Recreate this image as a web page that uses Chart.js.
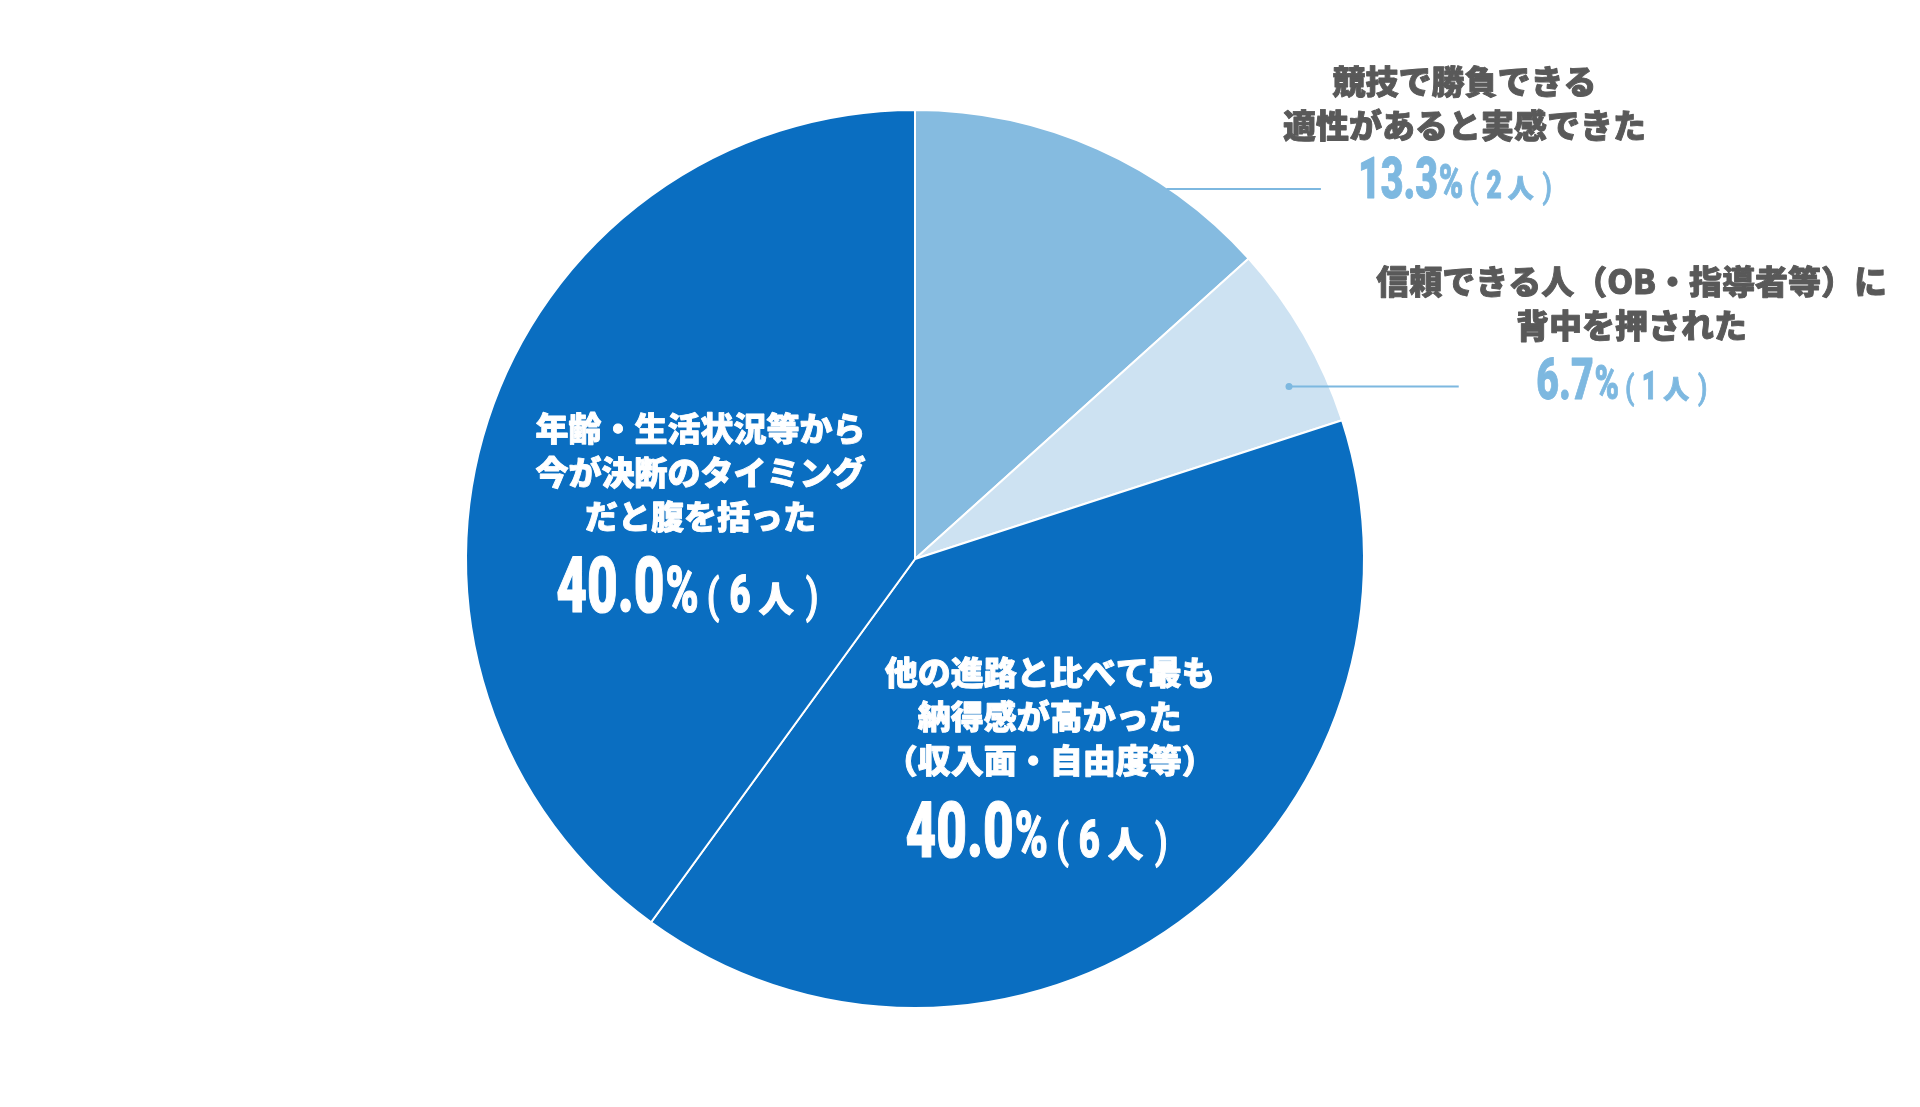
<!DOCTYPE html>
<html lang="ja">
<head>
    <meta charset="UTF-8">
    <title>進路決定の理由</title>
    <script src="https://cdn.jsdelivr.net/npm/chart.js"></script>
    <style>
        html, body { margin: 0; padding: 0; background: #fff; }
        #wrap { width: 1920px; height: 1107px; }
    </style>
</head>
<body>
    <div id="wrap"><canvas id="myChart" width="1920" height="1107"></canvas></div>

    <script>
        // 各項目（時計回り、上から）
        const categories = [
            ['競技で勝負できる', '適性があると実感できた'],
            ['信頼できる人（OB・指導者等）に', '背中を押された'],
            ['他の進路と比べて最も', '納得感が高かった', '（収入面・自由度等）'],
            ['年齢・生活状況等から', '今が決断のタイミング', 'だと腹を括った']
        ];
        const counts = [2, 1, 6, 6];
        const percentLabels = ['13.3', '6.7', '40.0', '40.0'];

        const sliceColors = ['#85bbe0', '#cde2f2', '#0a6ec1', '#0a6ec1'];

        // ラベル配置（円の中心からの位置、半径単位）
        const labelLayout = [
            { dx: 1.224, dy: -1.064, outside: true, line: [0.56, 0.904, -0.824], dot: false },
            { dx: 1.596, dy: -0.618, outside: true, line: [0.833, 1.211, -0.384], dot: true },
            { dx: 0.300, dy: 0.253, outside: false },
            { dx: -0.478, dy: -0.291, outside: false }
        ];

        const jpFont = '"Noto Sans CJK JP", "Noto Sans", sans-serif';
        const numFont = 'Roboto, "Liberation Sans", sans-serif';

        function drawPercent(ctx, cx, baseline, pct, count, s, color) {
            const pieces = [
                { t: pct,   font: `900 ${78 * s}px ${numFont}`, sx: 0.68, gap: 1 * s },
                { t: '%',   font: `900 ${64 * s}px ${numFont}`, sx: 0.7, gap: 8 * s },
                { t: '(',   font: `500 ${46 * s}px ${numFont}`, sx: 0.8,  gap: 10 * s },
                { t: String(count), font: `900 ${52 * s}px ${numFont}`, sx: 0.7, gap: 8 * s },
                { t: '人',  font: `900 ${35 * s}px ${jpFont}`, sx: 1, gap: 12 * s },
                { t: ')',   font: `500 ${46 * s}px ${numFont}`, sx: 0.8,  gap: 26 * s }
            ];
            let total = 0;
            pieces.forEach(p => {
                ctx.font = p.font;
                p.w = ctx.measureText(p.t).width * p.sx;
                total += p.w + p.gap;
            });
            let x = cx - total / 2;
            ctx.fillStyle = color;
            ctx.strokeStyle = color;
            ctx.lineWidth = 1.2 * s;
            ctx.lineJoin = 'round';
            ctx.textAlign = 'left';
            ctx.textBaseline = 'alphabetic';
            pieces.forEach(p => {
                ctx.save();
                ctx.font = p.font;
                ctx.translate(x, baseline);
                ctx.scale(p.sx, 1);
                ctx.fillText(p.t, 0, 0);
                ctx.strokeText(p.t, 0, 0);
                ctx.restore();
                x += p.w + p.gap;
            });
        }

        const labelPlugin = {
            id: 'sliceLabels',
            afterDraw(chart) {
                const ctx = chart.ctx;
                const arc = chart.getDatasetMeta(0).data[0];
                const cx = arc.x, cy = arc.y, r = arc.outerRadius;

                categories.forEach((lines, i) => {
                    const lay = labelLayout[i];
                    const x = cx + lay.dx * r;
                    const y = cy + lay.dy * r;

                    if (lay.line) {
                        const ly = cy + lay.line[2] * r;
                        ctx.save();
                        ctx.strokeStyle = '#7db8e0';
                        ctx.fillStyle = '#7db8e0';
                        ctx.lineWidth = 2;
                        ctx.beginPath();
                        ctx.moveTo(cx + lay.line[0] * r, ly);
                        ctx.lineTo(cx + lay.line[1] * r, ly);
                        ctx.stroke();
                        if (lay.dot) {
                            ctx.beginPath();
                            ctx.arc(cx + lay.line[0] * r, ly, 3.5, 0, Math.PI * 2);
                            ctx.fill();
                        }
                        ctx.restore();
                    }

                    ctx.save();
                    ctx.font = `900 33px ${jpFont}`;
                    ctx.textAlign = 'center';
                    ctx.textBaseline = 'middle';
                    const col = lay.outside ? '#595959' : '#ffffff';
                    ctx.fillStyle = col;
                    ctx.strokeStyle = col;
                    ctx.lineWidth = 0.9;
                    ctx.lineJoin = 'round';
                    lines.forEach((t, k) => {
                        ctx.fillText(t, x, y + k * 44);
                        ctx.strokeText(t, x, y + k * 44);
                    });
                    ctx.restore();

                    const last = y + (lines.length - 1) * 44;
                    if (lay.outside) {
                        drawPercent(ctx, x, last + 73, percentLabels[i], counts[i], 0.74, '#7db8e0');
                    } else {
                        drawPercent(ctx, x, last + 96, percentLabels[i], counts[i], 1, '#ffffff');
                    }
                });
            }
        };

        const ctx = document.getElementById('myChart').getContext('2d');
        const myChart = new Chart(ctx, {
            type: 'pie',
            data: {
                labels: categories.map(c => c.join('')),
                datasets: [{
                    data: counts,
                    backgroundColor: sliceColors,
                    borderColor: '#ffffff',
                    borderWidth: 2,
                    hoverOffset: 0,
                    offset: 0
                }]
            },
            options: {
                responsive: false,
                animation: false,
                layout: {
                    padding: { left: 465, right: 555, top: 109, bottom: 98 }
                },
                plugins: {
                    legend: { display: false },
                    tooltip: { enabled: false }
                }
            },
            plugins: [labelPlugin]
        });
    </script>
</body>
</html>
